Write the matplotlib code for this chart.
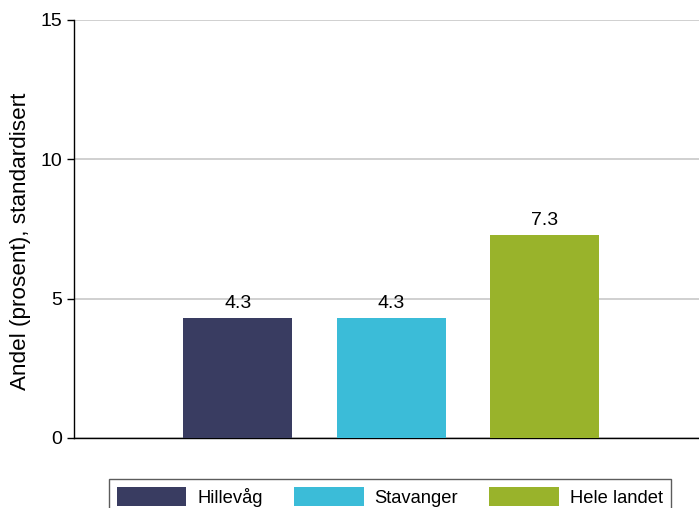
import matplotlib
matplotlib.use("Agg")
import numpy as np
from matplotlib import pyplot as plt

# data
categories = ["Hillevåg", "Stavanger", "Hele landet"]
values = [4.3, 4.3, 7.3]
colors = ["#393c61", "#3bbcd8", "#99b32b"]
yticks = [0, 5, 10, 15]

plt.rcParams['font.family'] = ['Liberation Sans', 'DejaVu Sans']

fig = plt.figure(figsize=(6.99, 5.08), dpi=100)
ax = fig.add_axes([74/699, 1-438/508, 1-74/699, (438-20)/508])

x = np.arange(len(categories))
bars = ax.bar(x, values, width=0.712, color=colors, label=categories, zorder=3)
for xi, v in zip(x, values):
    ax.annotate("%.1f" % v, (xi, v), xytext=(0, 7.2), textcoords='offset points',
                ha='center', va='baseline', fontsize=14)

ax.set_xlim(-1.07, 3.01)
ax.set_ylim(0, 15)
ax.set_yticks(yticks)
ax.tick_params(axis='y', labelsize=14, length=5, width=1, pad=3.5)
ax.set_xticks([])
ax.yaxis.grid(True, color='#c8c8c8', linewidth=1.2, zorder=0)
ax.set_axisbelow(True)
for s in ['top', 'right']:
    ax.spines[s].set_visible(False)
ax.spines['left'].set_linewidth(1)
ax.spines['bottom'].set_linewidth(1)
ax.set_ylabel("Andel (prosent), standardisert", fontsize=16.2, labelpad=7)
ax.yaxis.label.set_y(0.47)

leg = fig.legend(bars, categories, loc='upper left', bbox_to_anchor=(109/699, 1-479/508),
                 ncol=3, fontsize=13.2, frameon=True, fancybox=False,
                 handlelength=3.8, handleheight=1.25, handletextpad=0.6,
                 columnspacing=1.7, borderpad=0.42, borderaxespad=0)
leg.get_frame().set_edgecolor('#333333')
leg.get_frame().set_linewidth(1)

fig.savefig("out.png", dpi=100)
